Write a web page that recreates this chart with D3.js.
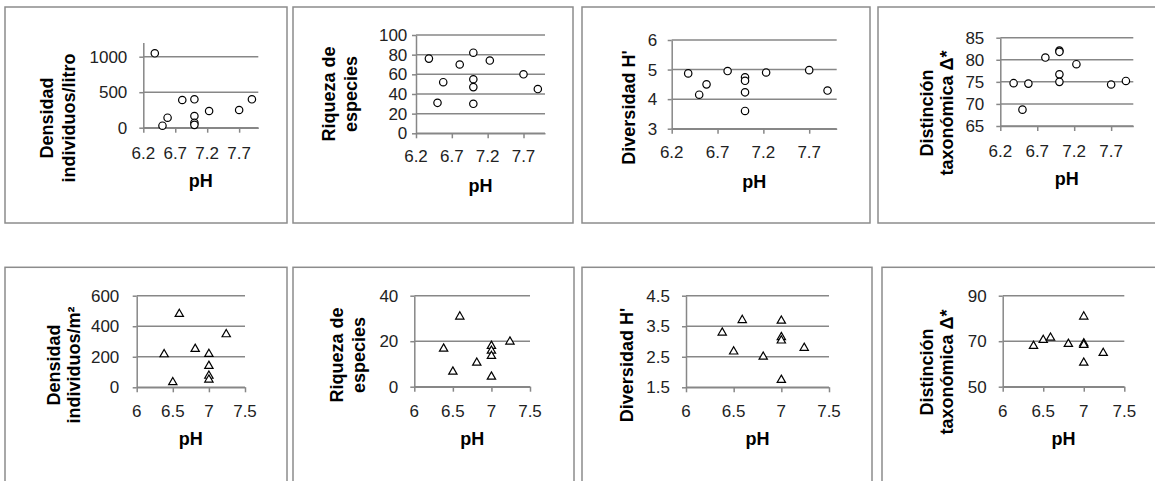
<!DOCTYPE html>
<html>
<head>
<meta charset="utf-8">
<script src="https://cdn.jsdelivr.net/npm/d3@7"></script>
<style>
  body { margin: 0; background: #fff; }
  text { font-family: "Liberation Sans", Arial, sans-serif; }
</style>
</head>
<body>
<div id="chartContainer"></div>
<script>
// pH of each site (top row: 11 sites, bottom row: 9 sites)
var phTop = [6.38, 6.5, 6.58, 6.81, 7.0, 7.0, 7.0, 7.0, 7.23, 7.7, 7.9];
var phBottom = [6.38, 6.5, 6.59, 6.81, 7.0, 7.0, 7.0, 7.0, 7.24];

// top row (circles)
var densidadLitro = [1048, 28, 141, 390, 400, 165, 70, 40, 235, 249, 400];
var riquezaTop = [76, 31, 52, 70, 82, 55, 47, 30, 74, 60, 45];
var diversidadTop = [4.87, 4.15, 4.5, 4.95, 4.74, 4.62, 4.23, 3.6, 4.9, 4.98, 4.29];
var distincionTop = [74.7, 68.7, 74.6, 80.5, 82.1, 81.8, 76.7, 75.0, 79.0, 74.4, 75.2];

// bottom row (triangles)
var densidadM2 = [216, 33, 480, 251, 218, 140, 75, 50, 347];
var riquezaBottom = [16.7, 6.6, 30.8, 10.5, 17.9, 15.8, 13.5, 4.4, 19.8];
var diversidadBottom = [3.29, 2.67, 3.7, 2.5, 3.68, 3.14, 3.03, 1.74, 2.79];
var distincionBottom = [67.9, 70.5, 71.5, 68.8, 80.8, 69.0, 68.3, 60.5, 64.8];

// tick labels
var xTicksTop = [6.2, 6.7, 7.2, 7.7];
var xTicksBottom = [6, 6.5, 7, 7.5];
var yTicksDensLitro = [0, 500, 1000];
var yTicksRiqTop = [0, 20, 40, 60, 80, 100];
var yTicksDivTop = [3, 4, 5, 6];
var yTicksDistTop = [65, 70, 75, 80, 85];
var yTicksDensM2 = [0, 200, 400, 600];
var yTicksRiqBottom = [0, 20, 40];
var yTicksDivBottom = [1.5, 2.5, 3.5, 4.5];
var yTicksDistBottom = [50, 70, 90];

var svg = d3.select("#chartContainer").append("svg")
  .attr("width", 1155)
  .attr("height", 481);

var gray = "#878787";

// layout of each small chart (frame box, plot area, label spots)
var panels = [
  { ph: phTop, vals: densidadLitro, mark: "circle", xDom: [6.2, 8], xTicks: xTicksTop, yDom: [0, 1200], yTicks: yTicksDensLitro,
    title: ["Densidad", "individuos/litro"], frame: [5, 7, 282, 216], plot: [143.3, 258.3, 42.5, 127.7],
    labelX: 127.3, titleX: [46.7, 68.3], titleY: 118, xLabelY: 159.3, phY: 186.7 },
  { ph: phTop, vals: riquezaTop, mark: "circle", xDom: [6.2, 8], xTicks: xTicksTop, yDom: [0, 100], yTicks: yTicksRiqTop,
    title: ["Riqueza de", "especies"], frame: [293, 7, 280, 216], plot: [416, 545, 35, 133.3],
    labelX: 407.3, titleX: [328.3, 351], titleY: 94, xLabelY: 161.7, phY: 192 },
  { ph: phTop, vals: diversidadTop, mark: "circle", xDom: [6.2, 8], xTicks: xTicksTop, yDom: [3, 6], yTicks: yTicksDivTop,
    title: ["Diversidad H'"], frame: [582, 7, 288, 216], plot: [671.7, 836.7, 40, 128.7],
    labelX: 657.3, titleX: [628.3], titleY: 107.5, xLabelY: 158.3, phY: 188.3 },
  { ph: phTop, vals: distincionTop, mark: "circle", xDom: [6.2, 8], xTicks: xTicksTop, yDom: [65, 85], yTicks: yTicksDistTop,
    title: ["Distinción", "taxonómica Δ*"], frame: [878, 7, 300, 216], plot: [1000.3, 1133.3, 37.7, 126],
    labelX: 984.3, titleX: [926.7, 946.7], titleY: 113, xLabelY: 156.7, phY: 185 },
  { ph: phBottom, vals: densidadM2, mark: "triangle", xDom: [6, 7.5], xTicks: xTicksBottom, yDom: [0, 600], yTicks: yTicksDensM2,
    title: ["Densidad", "individuos/m²"], frame: [5, 267.3, 282, 216], plot: [136.7, 245, 295.7, 387.3],
    labelX: 119.3, titleX: [53.3, 73.3], titleY: 365, xLabelY: 417.3, phY: 445 },
  { ph: phBottom, vals: riquezaBottom, mark: "triangle", xDom: [6, 7.5], xTicks: xTicksBottom, yDom: [0, 40], yTicks: yTicksRiqBottom,
    title: ["Riqueza de", "especies"], frame: [293, 267.3, 281, 216], plot: [414.3, 530, 295.7, 386.7],
    labelX: 398.3, titleX: [336.7, 358.3], titleY: 355, xLabelY: 417.3, phY: 445 },
  { ph: phBottom, vals: diversidadBottom, mark: "triangle", xDom: [6, 7.5], xTicks: xTicksBottom, yDom: [1.5, 4.5], yTicks: yTicksDivBottom,
    title: ["Diversidad H'"], frame: [582, 267.3, 290, 216], plot: [686, 829, 295.7, 387.3],
    labelX: 670, titleX: [626.7], titleY: 365, xLabelY: 417.3, phY: 445 },
  { ph: phBottom, vals: distincionBottom, mark: "triangle", xDom: [6, 7.5], xTicks: xTicksBottom, yDom: [50, 90], yTicks: yTicksDistBottom,
    title: ["Distinción", "taxonómica Δ*"], frame: [882, 267.3, 300, 216], plot: [1002.7, 1124.3, 295.7, 386.7],
    labelX: 986.7, titleX: [926.7, 946.7], titleY: 372, xLabelY: 417.3, phY: 445 }
];

panels.forEach(function (p) {
  var g = svg.append("g");

  // frame around each chart
  g.append("rect")
    .attr("x", p.frame[0]).attr("y", p.frame[1])
    .attr("width", p.frame[2]).attr("height", p.frame[3])
    .attr("fill", "none").attr("stroke", "#8c8c8c").attr("stroke-width", 1.5);

  var x = d3.scaleLinear().domain(p.xDom).range([p.plot[0], p.plot[1]]);
  var y = d3.scaleLinear().domain(p.yDom).range([p.plot[3], p.plot[2]]);

  // horizontal gridlines
  g.selectAll(".grid").data(p.yTicks).enter().append("line")
    .attr("x1", p.plot[0]).attr("x2", p.plot[1])
    .attr("y1", function (d) { return y(d); }).attr("y2", function (d) { return y(d); })
    .attr("stroke", gray).attr("stroke-width", 1.5);

  // axes (lines and tick marks only, labels drawn below)
  var yAxis = g.append("g").attr("transform", "translate(" + p.plot[0] + ",0)")
    .call(d3.axisLeft(y).tickValues(p.yTicks).tickSize(4).tickSizeOuter(0).tickFormat(""));
  var xAxis = g.append("g").attr("transform", "translate(0," + p.plot[3] + ")")
    .call(d3.axisBottom(x).tickValues(p.xTicks).tickSize(5).tickSizeOuter(0).tickFormat(""));
  [yAxis, xAxis].forEach(function (a) {
    a.selectAll("path, line").attr("stroke", gray).attr("stroke-width", 1.5);
  });

  // tick labels
  g.selectAll(".ylab").data(p.yTicks).enter().append("text")
    .attr("x", p.labelX).attr("y", function (d) { return y(d); })
    .attr("dy", "0.36em")
    .style("text-anchor", "end").style("font-size", "17px").style("fill", "#222")
    .text(function (d) { return String(d); });
  g.selectAll(".xlab").data(p.xTicks).enter().append("text")
    .attr("x", function (d) { return x(d); }).attr("y", p.xLabelY)
    .style("text-anchor", "middle").style("font-size", "17px").style("fill", "#222")
    .text(function (d) { return String(d); });

  // axis titles
  g.append("text")
    .attr("x", (p.plot[0] + p.plot[1]) / 2).attr("y", p.phY)
    .style("text-anchor", "middle").style("font-size", "18px").style("font-weight", "bold")
    .text("pH");
  p.title.forEach(function (t, i) {
    g.append("text")
      .attr("transform", "translate(" + p.titleX[i] + "," + p.titleY + ") rotate(-90)")
      .attr("dy", "0.35em")
      .style("text-anchor", "middle").style("font-size", "18px").style("font-weight", "bold")
      .text(t);
  });

  // markers
  var pts = p.ph.map(function (v, i) { return { ph: v, val: p.vals[i] }; });
  if (p.mark === "circle") {
    g.selectAll(".pt").data(pts).enter().append("circle")
      .attr("cx", function (d) { return x(d.ph); })
      .attr("cy", function (d) { return y(d.val); })
      .attr("r", 3.7)
      .attr("fill", "#fff").attr("stroke", "#000").attr("stroke-width", 1.2);
  } else {
    var tri = d3.symbol().type(d3.symbolTriangle).size(30);
    g.selectAll(".pt").data(pts).enter().append("path")
      .attr("d", tri)
      .attr("transform", function (d) { return "translate(" + x(d.ph) + "," + y(d.val) + ")"; })
      .attr("fill", "#fff").attr("stroke", "#000").attr("stroke-width", 1.2);
  }
});
</script>
</body>
</html>
